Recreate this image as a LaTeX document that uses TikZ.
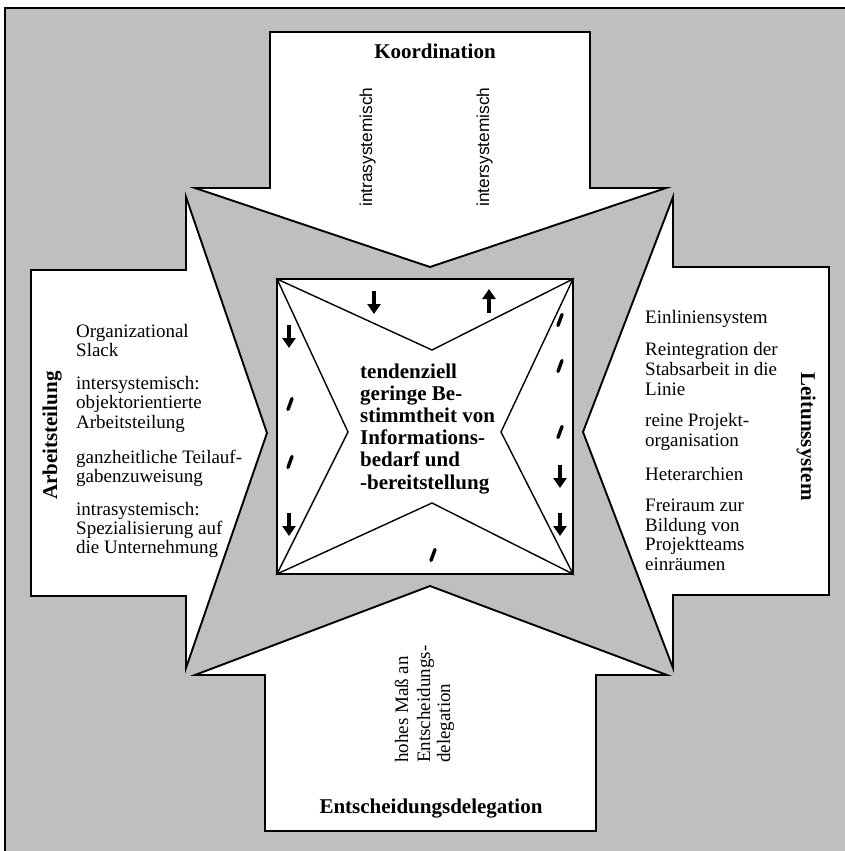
\documentclass[tikz,border=0pt]{standalone}
\usepackage{fontspec}
\setmainfont{Liberation Serif}
\newfontfamily\sansf{Liberation Sans}
\usetikzlibrary{arrows.meta}
\begin{document}
\begin{tikzpicture}[x=1pt,y=-1pt,
  bgfill/.style={fill=black!25},
  frameline/.style={line width=2.5pt, black},
  blockarrow/.style={draw=black, line width=1.9pt, fill=white, line join=miter},
  centerbox/.style={draw=black, line width=2.8pt, fill=white},
  starline/.style={draw=black, line width=1.4pt},
  titletext/.style={font=\fontsize{21}{22}\selectfont\bfseries, inner sep=0pt},
  bodytext/.style={font=\fontsize{19}{19.5}\selectfont, inner sep=0pt, anchor=base west},
  centertext/.style={font=\fontsize{21}{22}\selectfont\bfseries, inner sep=0pt, anchor=base west},
  sanstext/.style={font=\sansf\fontsize{17.3}{20}\selectfont, inner sep=0pt, anchor=base west, rotate=90},
  smallarrow/.style={line width=3.2pt, -{Triangle[width=13pt,length=10pt]}},
  slashmark/.style={line width=3.4pt, line cap=round}
]
\useasboundingbox (0,0) rectangle (845,851);
% background
\fill[bgfill] (5,8) rectangle (845,851);
\draw[frameline] (5,851) -- (5,8) -- (845,8);

% block arrows
\draw[blockarrow] (270,32) -- (590,32) -- (590,188) -- (666,188) -- (430,267) -- (195,188) -- (270,188) -- cycle;
\draw[blockarrow] (265,831) -- (596,831) -- (596,675) -- (667,675) -- (430,586) -- (195,675) -- (265,675) -- cycle;
\draw[blockarrow] (31,270) -- (186,270) -- (186,197) -- (267,433) -- (186,668) -- (186,596) -- (31,596) -- cycle;
\draw[blockarrow] (829,267) -- (673,267) -- (673,197) -- (583,432) -- (673,668) -- (673,595) -- (829,595) -- cycle;

% centre square
\coordinate (sqNW) at (277,279);
\coordinate (sqNE) at (573,279);
\coordinate (sqSE) at (573,574);
\coordinate (sqSW) at (277,574);
\coordinate (inN) at (432,350);
\coordinate (inE) at (501,432);
\coordinate (inS) at (432,503);
\coordinate (inW) at (348,432);
\draw[centerbox] (sqNW) rectangle (sqSE);
\draw[starline] (sqNW) -- (inN) -- (sqNE) -- (inE) -- (sqSE) -- (inS) -- (sqSW) -- (inW) -- cycle;

% small arrows
\draw[smallarrow] (374,291) -- (374,314);
\draw[smallarrow] (489,313) -- (489,289);
\draw[smallarrow] (289,325) -- (289,348);
\draw[smallarrow] (289,513) -- (289,536);
\draw[smallarrow] (560,465) -- (560,488);
\draw[smallarrow] (560,513) -- (560,536);
% slash marks
\foreach \px/\py in {290/404, 290/462, 560/320, 560/366, 560/432, 433/555}
  \draw[slashmark] (\px-2,\py+5.5) -- (\px+2,\py-5.5);

% titles
\node[titletext, anchor=base] (koord) at (435,59) {Koordination};
\node[titletext, anchor=base] (entsch) at (431,813) {Entscheidungsdelegation};
\node[titletext, anchor=base west, rotate=90] (arbeit) at (57,500) {Arbeitsteilung};
\node[titletext, anchor=base west, rotate=-90] (leit) at (801,372) {Leitunssystem};

% top vertical texts
\node[sanstext] (intra) at (372,207) {intrasystemisch};
\node[sanstext] (inter) at (489,207) {intersystemisch};

% bottom vertical texts
\node[bodytext, rotate=90] (hoch1) at (408,763) {hohes Maß an};
\node[bodytext, rotate=90] (hoch2) at (430,763) {Entscheidungs-};
\node[bodytext, rotate=90] (hoch3) at (450,763) {delegation};

% left texts
\foreach \yy/\tt [count=\i] in {337/Organizational, 356.7/Slack, 389.3/intersystemisch:, 408.5/objektorientierte, 428/Arbeitsteilung, 463.3/ganzheitliche Teilauf-, 482/gabenzuweisung, 515/intrasystemisch:, 534/Spezialisierung auf, 553.3/die Unternehmung}
  \node[bodytext] (L\i) at (76,\yy) {\tt};

% right texts
\foreach \yy/\tt [count=\i] in {323.3/Einliniensystem, 355/Reintegration der, 375/Stabsarbeit in die, 395/Linie, 426.7/reine Projekt-, 446.7/organisation, 480/Heterarchien, 511.7/Freiraum zur, 531/Bildung von, 550.5/Projektteams, 570/einräumen}
  \node[bodytext] (R\i) at (645,\yy) {\tt};

% centre text
\foreach \tt [count=\i] in {tendenziell, geringe Be-, stimmtheit von, Informations-, bedarf und, -bereitstellung}
  \node[centertext] (C\i) at (360,{378+22.2*(\i-1)}) {\tt};
\end{tikzpicture}
\end{document}
